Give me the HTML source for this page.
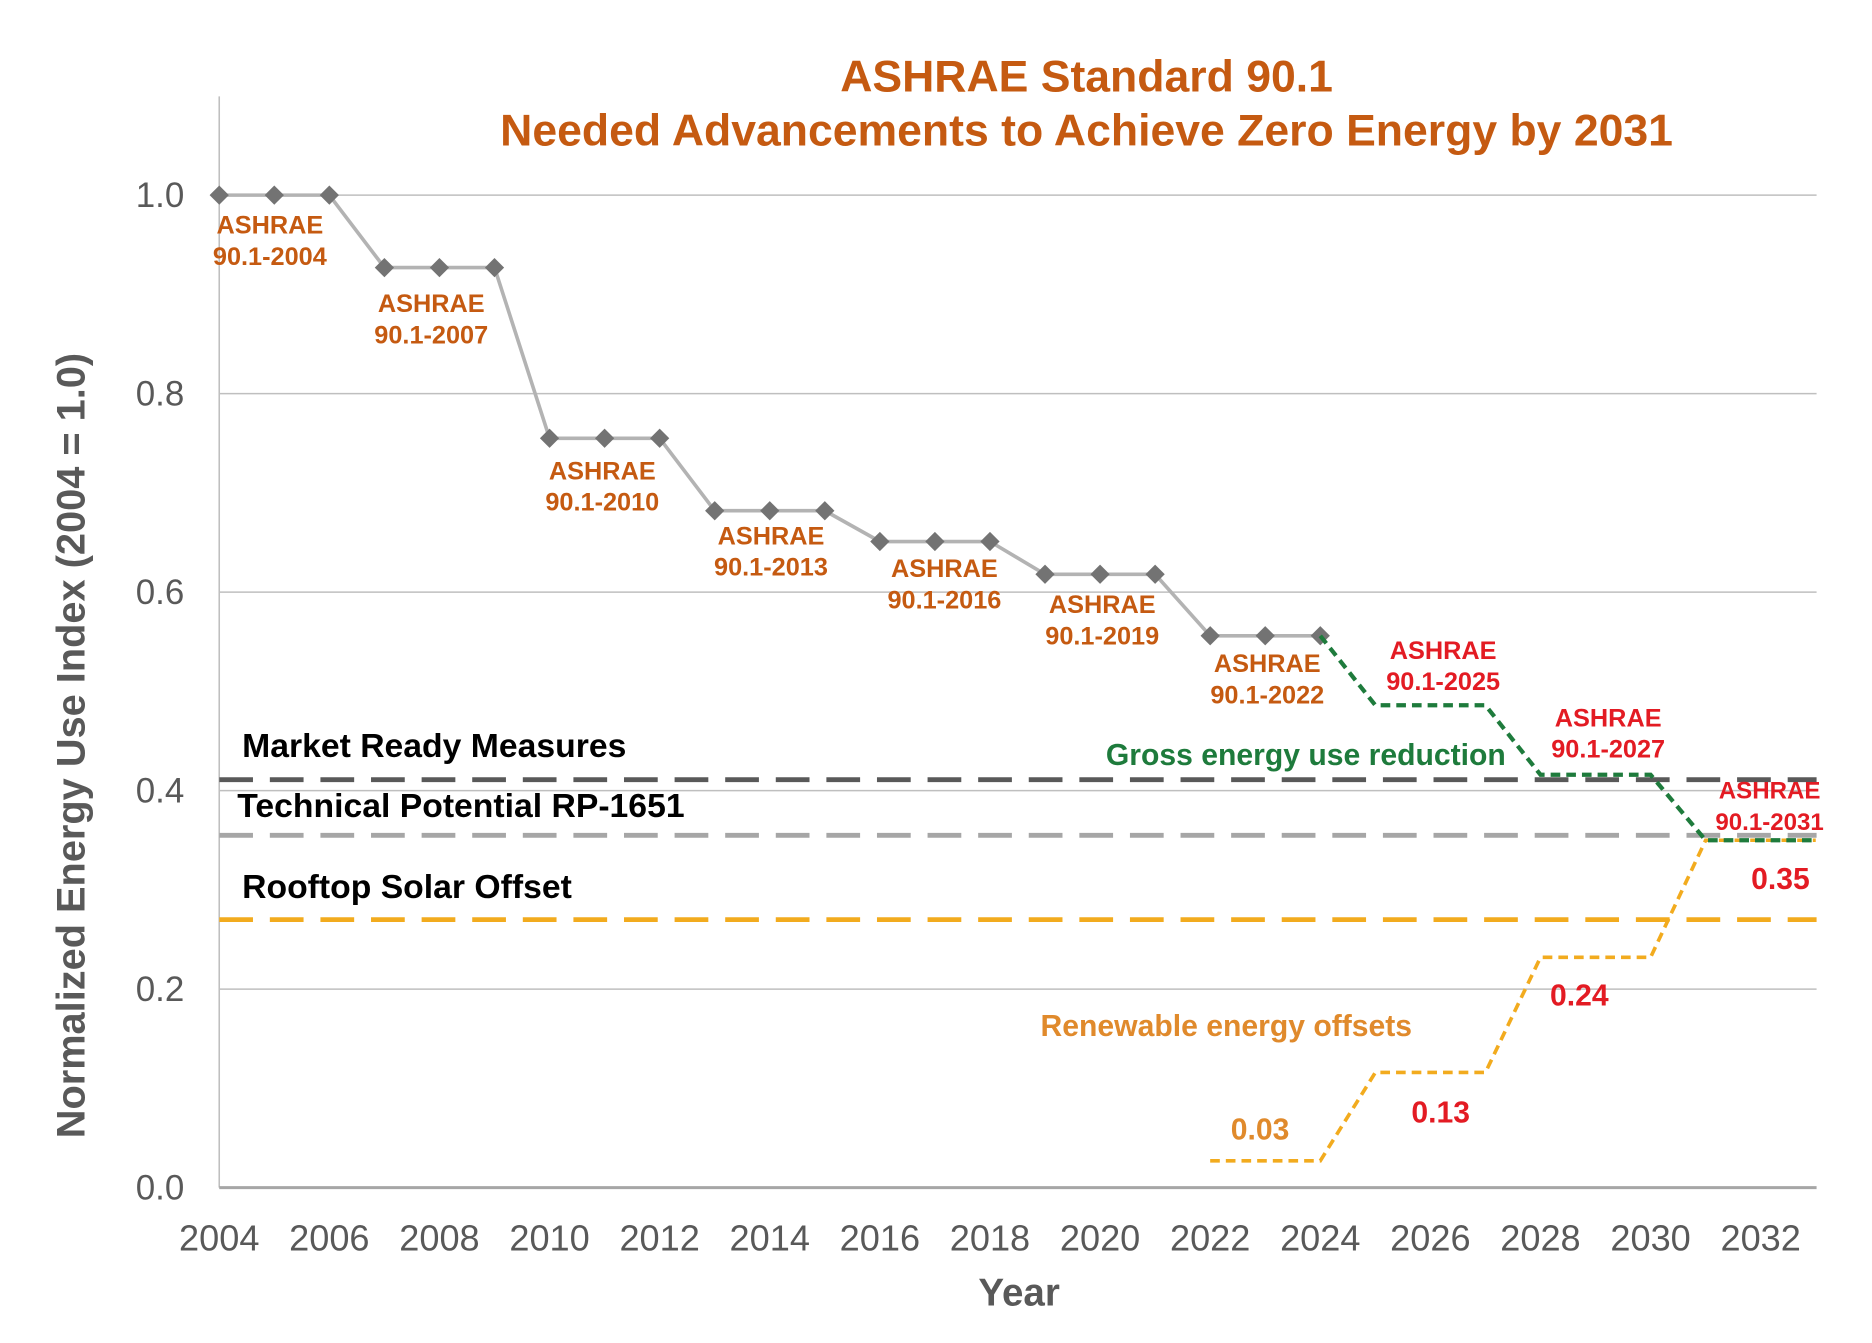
<!DOCTYPE html>
<html><head><meta charset="utf-8"><style>
html,body{margin:0;padding:0;background:#fff}
svg{display:block}
text{font-family:"Liberation Sans",Arial,sans-serif}
</style></head><body>
<svg id="chart" width="1872" height="1343" viewBox="0 0 1554 1115" preserveAspectRatio="none" xmlns="http://www.w3.org/2000/svg">
<g id="grid"></g>
<g id="axes"></g>
<g id="marks"></g>
<g id="labels"></g>
<text x="902" y="76" text-anchor="middle" font-size="37" font-weight="bold" fill="#c55a11">ASHRAE Standard 90.1</text>
<text x="902" y="121" text-anchor="middle" font-size="37" font-weight="bold" fill="#c55a11">Needed Advancements to Achieve Zero Energy by 2031</text>
<text transform="translate(70,619) rotate(-90)" text-anchor="middle" font-size="33" font-weight="bold" fill="#595959">Normalized Energy Use Index (2004 = 1.0)</text>
<text x="846" y="1084" text-anchor="middle" font-size="32" font-weight="bold" fill="#595959">Year</text>
</svg>
<script>
const years = [2004,2005,2006,2007,2008,2009,2010,2011,2012,2013,2014,2015,2016,2017,2018,2019,2020,2021,2022,2023,2024];
const standardValues = [1,1,1,0.927,0.927,0.927,0.755,0.755,0.755,0.682,0.682,0.682,0.651,0.651,0.651,0.618,0.618,0.618,0.556,0.556,0.556];
const grossYears = [2024,2025,2026,2027,2028,2029,2030,2031,2032,2033];
const grossValues = [0.556,0.486,0.486,0.486,0.416,0.416,0.416,0.35,0.35,0.35];
const renewYears = [2022,2023,2024,2025,2026,2027,2028,2029,2030,2031,2032,2033];
const renewValues = [0.027,0.027,0.027,0.116,0.116,0.116,0.232,0.232,0.232,0.35,0.35,0.35];
const refNames = ["Market Ready Measures","Technical Potential RP-1651","Rooftop Solar Offset"];
const refValues = [0.411,0.355,0.27];
const yTicks = [0,0.2,0.4,0.6,0.8,1.0];
const yTickLabels = ["0.0","0.2","0.4","0.6","0.8","1.0"];
const xTicks = [2004,2006,2008,2010,2012,2014,2016,2018,2020,2022,2024,2026,2028,2030,2032];

const NS="http://www.w3.org/2000/svg";
const X0=182, XS=45.7, Y0=986, YS=824;
const xs=y=>X0+(y-2004)*XS;
const ys=v=>Y0-v*YS;
function mk(parent,tag,attrs){const e=document.createElementNS(NS,tag);for(const k in attrs)e.setAttribute(k,attrs[k]);document.getElementById(parent).appendChild(e);return e;}

yTicks.forEach((t,i)=>{
  if(t>0){const g=mk('grid','line',{x1:X0,x2:1508,y1:ys(t),y2:ys(t),stroke:'#bfbfbf','stroke-width':1.3});
  
  }
  const l=mk('axes','text',{x:153,y:ys(t)+10,'text-anchor':'end','font-size':29,fill:'#595959'});
  l.textContent=yTickLabels[i];
  
  
});
xTicks.forEach(t=>{
  const l=mk('axes','text',{x:xs(t),y:1038,'text-anchor':'middle','font-size':30,fill:'#595959'});
  l.textContent=t;
  
  
});
let a=mk('axes','line',{x1:X0,x2:X0,y1:80,y2:Y0,stroke:'#bfbfbf','stroke-width':1.3});


a=mk('axes','line',{x1:X0,x2:1508,y1:Y0,y2:Y0,stroke:'#a6a6a6','stroke-width':2.5});



const refColors=['#595959','#a6a6a6','#f2ab1e'];
const refLabelX=[201,197,201], refLabelDy=[-19,-15,-18];
refValues.forEach((v,i)=>{
  const l=mk('marks','line',{x1:X0,x2:1508,y1:ys(v),y2:ys(v),stroke:refColors[i],'stroke-width':4,'stroke-dasharray':'28 14'});
  
  
  const t=mk('labels','text',{x:refLabelX[i],y:ys(v)+refLabelDy[i],'font-size':28,'font-weight':'bold',fill:'#000'});
  t.textContent=refNames[i];
  
  
});

const sp=mk('marks','polyline',{points:years.map((y,i)=>xs(y)+','+ys(standardValues[i])).join(' '),fill:'none',stroke:'#b3b3b3','stroke-width':3});


years.forEach((y,i)=>{
  const cx=xs(y),cy=ys(standardValues[i]),r=8;
  const d=mk('marks','polygon',{points:`${cx},${cy-r} ${cx+r},${cy} ${cx},${cy+r} ${cx-r},${cy}`,fill:'#737373'});
  
  
});
const rp=mk('marks','polyline',{points:renewYears.map((y,i)=>xs(y)+','+ys(renewValues[i])).join(' '),fill:'none',stroke:'#f2ab1e','stroke-width':3,'stroke-dasharray':'8 5'});


const gp=mk('marks','polyline',{points:grossYears.map((y,i)=>xs(y)+','+ys(grossValues[i])).join(' '),fill:'none',stroke:'#1e7b3c','stroke-width':3.5,'stroke-dasharray':'8 5'});



const ann=[
 ['ASHRAE','90.1-2004',224,187,'#c55a11',21],['ASHRAE','90.1-2007',358,252,'#c55a11',21],
 ['ASHRAE','90.1-2010',500,391,'#c55a11',21],['ASHRAE','90.1-2013',640,445,'#c55a11',21],
 ['ASHRAE','90.1-2016',784,472,'#c55a11',21],['ASHRAE','90.1-2019',915,502,'#c55a11',21],
 ['ASHRAE','90.1-2022',1052,551,'#c55a11',21],['ASHRAE','90.1-2025',1198,540,'#e31b23',21],
 ['ASHRAE','90.1-2027',1335,596,'#e31b23',21],['ASHRAE','90.1-2031',1469,656,'#e31b23',20]];
ann.forEach(a=>{
  [a[0],a[1]].forEach((s,k)=>{
    const t=mk('labels','text',{x:a[2],y:a[3]+7+k*26,'text-anchor':'middle','font-size':a[5],'font-weight':'bold',fill:a[4]});
    t.textContent=s;
    
    
  });
});
const vals=[['0.03',1046,938,'#e08a2c'],['0.13',1196,924,'#e31b23'],['0.24',1311,827,'#e31b23'],['0.35',1478,730,'#e31b23'],
 ['Renewable energy offsets',1018,852,'#e08a2c'],['Gross energy use reduction',1084,627,'#1e7b3c']];
vals.forEach(v=>{
  const t=mk('labels','text',{x:v[1],y:v[2]+8,'text-anchor':'middle','font-size':v[0].length>5?25:25,'font-weight':'bold',fill:v[3]});
  t.textContent=v[0];
  
  
});
</script>
</body></html>
